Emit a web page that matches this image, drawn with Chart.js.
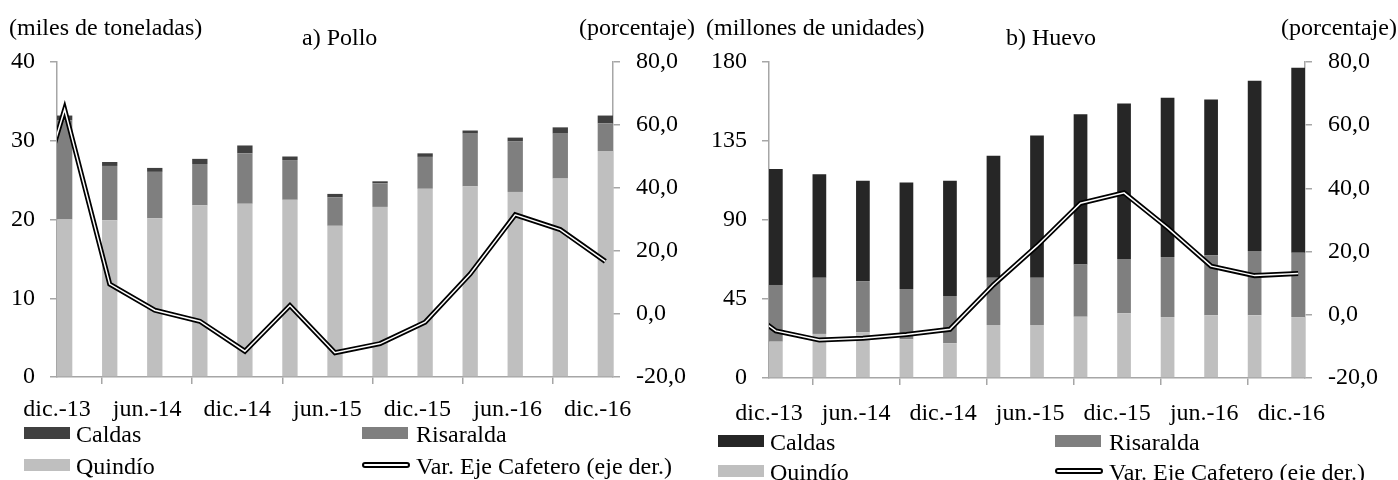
<!DOCTYPE html>
<html><head><meta charset="utf-8">
<script src="https://cdn.jsdelivr.net/npm/chart.js@4.4.1/dist/chart.umd.min.js"></script>
<style>
html,body{margin:0;padding:0;background:#fff;}
#root{position:relative;width:1398px;height:480px;overflow:hidden;font-family:'Liberation Serif','Times New Roman',serif;color:#000;}
.txt{position:absolute;font-size:24px;line-height:28px;white-space:nowrap;}
canvas{position:absolute;top:0;}
.sw{position:absolute;width:46px;height:12px;}
.ln{position:absolute;width:44px;height:2px;border:2px solid #000;border-radius:3px;background:#fff;}
</style></head>
<body><div id="root">
<canvas id="cA" width="700" height="480" style="left:0px"></canvas>
<canvas id="cB" width="698" height="480" style="left:700px"></canvas>
</div>
<script>
// ---- data ----
const QUARTERS = ['dic.-13','mar.-14','jun.-14','sep.-14','dic.-14','mar.-15','jun.-15','sep.-15','dic.-15','mar.-16','jun.-16','sep.-16','dic.-16'];
const TICK_LABELS = ['dic.-13','jun.-14','dic.-14','jun.-15','dic.-15','jun.-16','dic.-16'];
const SERIES = {caldas:'Caldas', risaralda:'Risaralda', quindio:'Quindío', variacion:'Var. Eje Cafetero (eje der.)'};

// a) Pollo (miles de toneladas)
const polloQuindio   = [20.0, 19.9, 20.15, 21.8, 22.0, 22.5, 19.2, 21.6, 23.9, 24.2, 23.5, 25.2, 28.7];
const polloRisaralda = [12.6, 6.9, 5.9, 5.25, 6.4, 5.05, 3.6, 3.0, 4.05, 6.7, 6.4, 5.7, 3.5];
const polloCaldas    = [0.6, 0.5, 0.5, 0.65, 1.0, 0.45, 0.45, 0.25, 0.45, 0.4, 0.5, 0.8, 1.0];
const polloVarPrev   = 17.0; // sep.-13 (outside the axis, clipped)
const polloVar       = [65.0, 9.5, 1.2, -2.3, -11.8, 2.7, -12.3, -9.4, -2.6, 12.7, 31.5, 26.8, 16.7];

// b) Huevo (millones de unidades)
const huevoQuindio   = [20.7, 25.1, 26.0, 22.0, 19.8, 30.2, 30.2, 34.9, 36.8, 34.7, 35.7, 35.7, 34.7];
const huevoRisaralda = [32.3, 32.0, 29.2, 28.7, 26.9, 26.9, 26.9, 29.8, 31.0, 34.2, 34.3, 36.6, 36.7];
const huevoCaldas    = [66.0, 58.9, 57.2, 60.7, 65.7, 69.5, 81.1, 85.5, 88.6, 90.7, 88.7, 97.0, 105.3];
const huevoVarPrev   = 5.0;
const huevoVar       = [-5.1, -8.0, -7.4, -6.2, -4.6, 9.5, 21.8, 35.3, 38.6, 27.5, 15.4, 12.4, 13.1];

// ---- styles ----
const AXIS = '#a6a6a6';
const FONT = "'Liberation Serif', 'Times New Roman', serif";
const C_Q = '#bfbfbf', C_R = '#7f7f7f';

function pts(arr){ return arr.map((v,i)=>({x:i, y:v})); }
function linePts(prev, arr){ return [{x:-1, y:prev}].concat(pts(arr)); }
const fmtPct = v => Number(v).toFixed(1).replace('.', ',');

function build(id, o){
  const half = o.barFrac/2;
  const tickFont = {family:FONT, size:24};
  return new Chart(document.getElementById(id), {
    type:'bar',
    data:{datasets:[
      {label:SERIES.quindio, data:pts(o.quindio), backgroundColor:C_Q, order:2, yAxisID:'y'},
      {label:SERIES.risaralda, data:pts(o.risaralda), backgroundColor:C_R, order:2, yAxisID:'y'},
      {label:SERIES.caldas, data:pts(o.caldas), backgroundColor:o.caldasColor, order:2, yAxisID:'y'},
      {type:'line', label:SERIES.variacion, data:linePts(o.varPrev, o.variacion), borderColor:'#000', borderWidth:5,
        pointRadius:0, tension:0, yAxisID:'y1', order:1, clip:0, borderJoinStyle:'miter'},
      {type:'line', label:'', data:linePts(o.varPrev, o.variacion), borderColor:'#fff', borderWidth:1.5,
        pointRadius:0, tension:0, yAxisID:'y1', order:0, clip:0, borderJoinStyle:'miter'}
    ]},
    options:{
      responsive:false, animation:false, devicePixelRatio:1,
      layout:{padding:{top:62, bottom:o.padBottom, left:0, right:0}},
      plugins:{legend:{display:false}, tooltip:{enabled:false}},
      datasets:{bar:{categoryPercentage:o.barFrac, barPercentage:1}},
      scales:{
        x:{type:'linear', stacked:true, min:-half, max:12+half, offset:false,
          afterBuildTicks: s => { s.ticks = TICK_LABELS.map((_,k)=>({value:2*k-half})); },
          afterFit: s => { s.height = 60; },
          ticks:{autoSkip:false, maxRotation:0, padding:o.xPad, color:'#000', font:tickFont,
            callback:(v,i)=>TICK_LABELS[i]},
          grid:{drawOnChartArea:false, tickLength:7, color:AXIS, lineWidth:1.5},
          border:{color:AXIS, width:1.5}},
        y:{position:'left', stacked:true, min:0, max:o.yMax,
          afterFit: s => { s.width = o.leftW; },
          ticks:{stepSize:o.yStep, padding:15, color:'#000', font:tickFont},
          grid:{drawOnChartArea:false, tickLength:7, color:AXIS, lineWidth:1.5},
          border:{color:AXIS, width:1.5}},
        y1:{position:'right', stacked:false, min:-20, max:80,
          afterFit: s => { s.width = o.rightW; },
          ticks:{stepSize:20, padding:16, color:'#000', font:tickFont, callback:fmtPct},
          grid:{drawOnChartArea:false, tickLength:7, color:AXIS, lineWidth:1.5},
          border:{color:AXIS, width:1.5}}
      }
    }
  });
}

build('cA', {quindio:polloQuindio, risaralda:polloRisaralda, caldas:polloCaldas, varPrev:polloVarPrev, variacion:polloVar,
  caldasColor:'#404040', barFrac:0.34, yMax:40, yStep:10, leftW:57, rightW:87, padBottom:43, xPad:11});
build('cB', {quindio:huevoQuindio, risaralda:huevoRisaralda, caldas:huevoCaldas, varPrev:huevoVarPrev, variacion:huevoVar,
  caldasColor:'#262626', barFrac:0.315, yMax:180, yStep:45, leftW:69, rightW:93, padBottom:42, xPad:14});

// ---- text & legends ----
const root = document.getElementById('root');
function txt(s, left, cy){ const d=document.createElement('div'); d.className='txt'; d.textContent=s; d.style.left=left+'px'; d.style.top=(cy-14)+'px'; root.appendChild(d); }
function sw(color, left, cy){ const d=document.createElement('div'); d.className='sw'; d.style.background=color; d.style.left=left+'px'; d.style.top=(cy-6)+'px'; root.appendChild(d); }
function ln(left, cy){ const d=document.createElement('div'); d.className='ln'; d.style.left=left+'px'; d.style.top=(cy-3)+'px'; root.appendChild(d); }

txt('(miles de toneladas)', 9, 27);
txt('a) Pollo', 302, 37);
txt('(porcentaje)', 579, 27);
txt('(millones de unidades)', 706, 27);
txt('b) Huevo', 1006, 37);
txt('(porcentaje)', 1281, 27);

function legend(x1, x2, r1, r2, caldasColor){
  sw(caldasColor, x1, r1); txt(SERIES.caldas, x1+52, r1+1);
  sw(C_R, x2, r1); txt(SERIES.risaralda, x2+54, r1+1);
  sw(C_Q, x1, r2); txt(SERIES.quindio, x1+52, r2+1);
  ln(x2, r2); txt(SERIES.variacion, x2+54, r2+1);
}
legend(24, 362, 433, 465, '#404040');
legend(718, 1055, 441, 471, '#262626');
</script>
</body></html>
